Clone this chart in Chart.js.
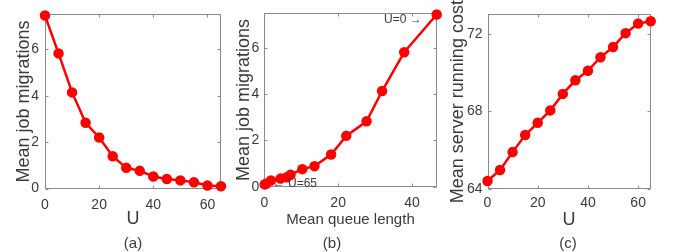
<!DOCTYPE html>
<html>
<head>
<meta charset="utf-8">
<script src="https://cdn.jsdelivr.net/npm/chart.js@4.4.0/dist/chart.umd.min.js"></script>
<style>
  body { margin: 0; background: #fff; }
  #wrap { position: relative; width: 677px; height: 252px; overflow: hidden; }
  canvas { position: absolute; top: 0; }
  .cap { position: absolute; top: 234px; line-height: 17px; font: 15px "Liberation Sans", Arial, sans-serif; color: #3a3a3a; transform: translateX(-50%); }
</style>
</head>
<body>
<div id="wrap">
  <canvas id="chartA" width="230" height="252" style="left:0px"></canvas>
  <canvas id="chartB" width="225" height="252" style="left:230px"></canvas>
  <canvas id="chartC" width="237" height="252" style="left:440px"></canvas>
  <div class="cap" style="left:133px">(a)</div>
  <div class="cap" style="left:332px">(b)</div>
  <div class="cap" style="left:568px">(c)</div>
</div>
<script>
// data
const uValues = [0, 5, 10, 15, 20, 25, 30, 35, 40, 45, 50, 55, 60, 65];
const migrations = [7.45, 5.82, 4.14, 2.83, 2.20, 1.39, 0.89, 0.76, 0.52, 0.41, 0.35, 0.27, 0.13, 0.10];
const queueLength = [46.7, 37.9, 31.9, 27.7, 22.2, 18.1, 13.6, 10.3, 7.1, 6.1, 4.4, 1.8, 0.5, 0.1];
const serverCost = [64.41, 64.98, 65.90, 66.78, 67.41, 68.05, 68.90, 69.60, 70.09, 70.79, 71.31, 72.03, 72.52, 72.64];

const uTicks = [0, 20, 40, 60];
const queueTicks = [0, 20, 40];
const migrationTicks = [0, 2, 4, 6];
const costTicks = [64, 68, 72];

const FONT = '"Liberation Sans", Arial, sans-serif';
const TEXT = '#3a3a3a';
const RED = '#ff0000';

// box around the plot area with small inward ticks on all sides (matlab style)
const framePlugin = {
  id: 'frame',
  beforeDatasetsDraw(chart) {
    const { ctx, chartArea: a, scales } = chart;
    const l = Math.round(a.left) + 0.5, r = Math.round(a.right) - 0.5;
    const t = Math.round(a.top) + 0.5, b = Math.round(a.bottom) - 0.5;
    ctx.save();
    ctx.strokeStyle = '#8a8a8a';
    ctx.lineWidth = 1;
    ctx.strokeRect(l, t, r - l, b - t);
    ctx.beginPath();
    scales.x.ticks.forEach(tk => {
      const px = Math.round(scales.x.getPixelForValue(tk.value)) + 0.5;
      ctx.moveTo(px, b); ctx.lineTo(px, b - 3);
      ctx.moveTo(px, t); ctx.lineTo(px, t + 3);
    });
    scales.y.ticks.forEach(tk => {
      const py = Math.round(scales.y.getPixelForValue(tk.value)) + 0.5;
      ctx.moveTo(l, py); ctx.lineTo(l + 3, py);
      ctx.moveTo(r, py); ctx.lineTo(r - 3, py);
    });
    ctx.stroke();
    ctx.restore();
  }
};

// "U=0 ->" and "<- U=65" notes next to the end points of panel (b)
const notePlugin = {
  id: 'notes',
  afterDatasetsDraw(chart) {
    const pts = chart.getDatasetMeta(0).data;
    const first = pts[0], last = pts[pts.length - 1];
    const ctx = chart.ctx;
    ctx.save();
    ctx.font = '12px ' + FONT;
    ctx.fillStyle = TEXT;
    ctx.textBaseline = 'middle';
    ctx.textAlign = 'right';
    ctx.fillText('U=0 \u2192', first.x - 15, first.y + 5);
    ctx.textAlign = 'left';
    ctx.fillText('\u2190 U=65', last.x + 8, last.y - 1);
    ctx.restore();
  }
};

function axis(opts) {
  return {
    type: 'linear',
    min: opts.min,
    max: opts.max,
    afterBuildTicks: s => { s.ticks = opts.ticks.map(v => ({ value: v })); },
    afterFit: s => { if (opts.width != null) s.width = opts.width; if (opts.height != null) s.height = opts.height; },
    grid: { display: false, drawTicks: false },
    border: { display: false },
    ticks: { color: TEXT, font: { family: FONT, size: 14 }, padding: opts.tickPad },
    title: {
      display: true, text: opts.title, color: TEXT,
      font: { family: FONT, size: opts.titleSize || 18 },
      padding: opts.titlePad
    }
  };
}

function makeChart(id, xs, ys, pad, xAxis, yAxis, plugins) {
  return new Chart(document.getElementById(id), {
    type: 'line',
    data: {
      datasets: [{
        data: xs.map((x, i) => ({ x: x, y: ys[i] })),
        borderColor: RED,
        backgroundColor: RED,
        borderWidth: 2.5,
        pointRadius: 4,
        pointBackgroundColor: RED,
        pointBorderColor: RED,
        tension: 0,
        clip: false
      }]
    },
    options: {
      responsive: false,
      animation: false,
      layout: { padding: pad },
      plugins: { legend: { display: false }, tooltip: { enabled: false } },
      scales: { x: axis(xAxis), y: axis(yAxis) }
    },
    plugins: [framePlugin].concat(plugins || [])
  });
}

makeChart('chartA', uValues, migrations,
  { top: 12, right: 9, left: 0, bottom: 0 },
  { min: 0, max: 65, ticks: uTicks, height: 63.5, tickPad: 8, title: 'U', titlePad: { top: 0, bottom: 22 } },
  { min: 0, max: 7.5, ticks: migrationTicks, width: 45, tickPad: 6, title: 'Mean job migrations', titlePad: { top: 13, bottom: 0 } });

makeChart('chartB', queueLength, migrations,
  { top: 12.5, right: 18.3, left: 0, bottom: 0 },
  { min: 0, max: 46.7, ticks: queueTicks, height: 65.3, tickPad: 8, title: 'Mean queue length', titleSize: 15, titlePad: { top: 0, bottom: 23 } },
  { min: 0, max: 7.5, ticks: migrationTicks, width: 34.3, tickPad: 5, title: 'Mean job migrations', titlePad: { top: 3, bottom: 0 } },
  [notePlugin]);

makeChart('chartC', uValues, serverCost,
  { top: 14.3, right: 26.3, left: 0, bottom: 0 },
  { min: 0, max: 65, ticks: uTicks, height: 63, tickPad: 6, title: 'U', titlePad: { top: 0, bottom: 21 } },
  { min: 64, max: 73, ticks: costTicks, width: 47.5, tickPad: 5, title: 'Mean server running cost', titlePad: { top: 7, bottom: 0 } });
</script>
</body>
</html>
